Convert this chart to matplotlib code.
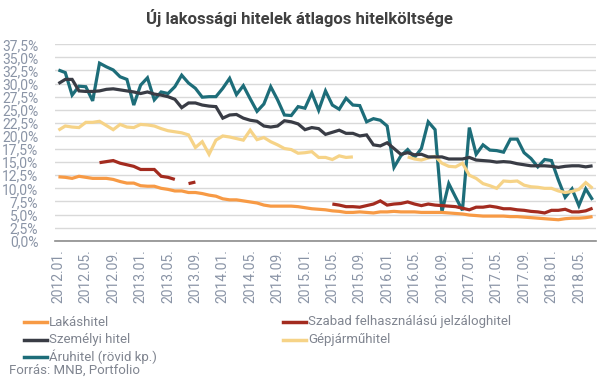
import numpy as np
import matplotlib
matplotlib.use("Agg")
import matplotlib.pyplot as plt
from matplotlib.lines import Line2D

nan = np.nan

# 2012.01 ... 2018.07 (monthly)
months = [f"{y}.{m:02d}." for y in range(2012, 2019) for m in range(1, 13)][:79]

lakashitel = [12.2, 12.1, 11.9, 12.3, 12.1, 11.9, 11.9, 11.9, 11.7, 11.3,
              11.0, 11.0, 10.5, 10.4, 10.4, 10.0, 9.8, 9.5, 9.5, 9.2,
              9.2, 9.0, 8.7, 8.5, 8.0, 7.8, 7.8, 7.6, 7.4, 7.2,
              6.8, 6.6, 6.6, 6.6, 6.6, 6.5, 6.3, 6.1, 6.0, 5.9,
              5.7, 5.6, 5.4, 5.4, 5.5, 5.4, 5.3, 5.5, 5.5, 5.6,
              5.5, 5.5, 5.5, 5.4, 5.4, 5.4, 5.4, 5.3, 5.2, 5.1,
              4.9, 4.8, 4.7, 4.7, 4.7, 4.7, 4.6, 4.6, 4.5, 4.4,
              4.3, 4.2, 4.1, 4.0, 4.2, 4.3, 4.3, 4.4, 4.6]

szabad = [nan, nan, nan, nan, nan, nan,
          14.9, 15.1, 15.3, 14.8, 14.5, 14.2, 13.6, 13.6, 13.6, 12.3, 12.1, 11.7,
          nan, 10.9, 11.2,
          nan, nan, nan, nan, nan, nan, nan, nan, nan, nan,
          nan, nan, nan, nan, nan, nan, nan, nan, nan,
          7.0, 6.8, 6.5, 6.5, 6.4, 6.7, 7.0, 7.6, 6.8, 7.0,
          7.1, 7.4, 7.0, 6.7, 7.0, 6.8, 6.7, 6.6, 6.5, 6.2,
          5.9, 6.4, 6.4, 6.6, 6.4, 6.1, 6.1, 5.9, 5.8, 5.6,
          5.5, 5.3, 5.8, 5.8, 6.0, 5.5, 5.5, 5.7, 6.2]

szemelyi = [30.0, 30.8, 30.8, 28.6, 28.5, 28.5, 28.6, 28.9, 29.0, 28.8,
            28.6, 28.4, 28.1, 28.4, 28.0, 27.8, 27.5, 27.0, 25.4, 26.3,
            26.3, 25.9, 25.7, 25.6, 23.4, 24.0, 24.1, 23.4, 23.0, 22.8,
            21.9, 21.7, 21.9, 22.9, 22.7, 22.3, 21.2, 21.6, 21.4, 20.3,
            20.7, 21.1, 20.5, 20.5, 20.0, 20.2, 18.3, 18.1, 18.7, 17.6,
            16.5, 16.8, 16.4, 16.5, 16.0, 16.0, 16.0, 15.6, 15.6, 15.6,
            15.9, 15.4, 15.3, 15.2, 15.0, 15.1, 15.0, 14.7, 14.5, 14.3,
            14.3, 14.3, 14.2, 14.0, 14.2, 14.3, 14.3, 14.1, 14.3]

gepjarmu = [21.1, 21.9, 21.7, 21.6, 22.6, 22.6, 22.8, 22.0, 21.2, 22.2,
            21.7, 21.6, 22.2, 22.1, 21.9, 21.4, 21.0, 20.8, 20.6, 20.2,
            17.8, 18.9, 16.5, 19.2, 20.0, 19.8, 19.5, 19.2, 21.1, 19.3,
            19.7, 18.9, 18.3, 17.6, 17.4, 16.7, 16.8, 17.0, 15.9, 15.9,
            15.5, 16.2, 15.9, 16.0, nan, nan, nan, nan, nan, nan,
            nan, 16.0, 15.6, 15.4, 15.8, 16.1, 14.8, 14.2, 14.1, 14.8,
            12.5, 11.9, 10.9, 10.5, 10.0, 11.4, 11.3, 11.4, 10.6, 10.3,
            10.2, 10.0, 10.0, 9.5, 9.2, 9.4, 9.8, 11.1, 10.0]

aruhitel = [32.6, 32.1, 27.8, 29.5, 29.4, 26.7, 33.9, 33.2, 32.6, 31.3,
            30.8, 25.9, 29.7, 31.1, 26.9, 28.4, 28.1, 29.4, 31.6, 30.1,
            29.1, 27.4, 27.5, 27.5, 29.1, 31.0, 27.9, 29.6, 27.1, 24.7,
            26.1, 29.4, 26.9, 24.0, 23.9, 25.6, 25.3, 28.2, 24.9, 28.6,
            25.9, 25.1, 27.2, 25.9, 25.8, 22.7, 23.3, 23.0, 21.9, 14.0,
            16.2, 17.4, 15.9, 17.6, 22.7, 21.2, 5.5, 10.9, 8.3, 5.8,
            21.6, 16.5, 18.3, 17.3, 17.2, 16.9, 19.4, 19.4, 16.8, 15.7,
            14.1, 15.5, 15.3, 11.6, 8.3, 9.9, 6.7, 9.9, 7.8]

series = [
    ("Lakáshitel", lakashitel, "#f79a45"),
    ("Szabad felhasználású jelzáloghitel", szabad, "#a32b1f"),
    ("Személyi hitel", szemelyi, "#393c45"),
    ("Gépjárműhitel", gepjarmu, "#f6d387"),
    ("Áruhitel (rövid kp.)", aruhitel, "#1d6d79"),
]
draw_order = [4, 3, 2, 1, 0]

yticks = [0, 2.5, 5, 7.5, 10, 12.5, 15, 17.5, 20, 22.5, 25, 27.5, 30, 32.5, 35, 37.5]
ytick_labels = [f"{v:.1f}%".replace(".", ",") for v in yticks]

plt.rcParams['font.family'] = ['Roboto', 'DejaVu Sans']
tick_color = "#8a94a6"
text_color = "#808590"

fig = plt.figure(figsize=(6.05, 3.78), dpi=100)
ax = fig.add_axes([55/605, 1-240.7/378, (596-55)/605, (240.7-44.3)/378])

x = np.arange(len(months))
for k in draw_order:
    name, vals, col = series[k]
    ax.plot(x, np.array(vals, dtype=float), color=col, lw=2.3,
            solid_joinstyle='miter', solid_capstyle='butt')

ax.set_xlim(-0.5, len(months) - 0.5)
ax.set_ylim(0, 37.5)
ax.set_yticks(yticks)
ax.set_yticklabels(ytick_labels)
ax.set_xticks(x[::4])
ax.set_xticklabels(months[::4], rotation=90)
ax.tick_params(axis='both', length=0, colors=tick_color, labelsize=10)
ax.tick_params(axis='y', pad=12)
ax.tick_params(axis='x', pad=6)
ax.grid(axis='y', color='#d9d9d9', lw=1)
ax.set_axisbelow(True)
for s in ['top', 'right', 'left']:
    ax.spines[s].set_visible(False)
ax.spines['bottom'].set_color('#8c8c8c')
ax.spines['bottom'].set_linewidth(1.2)
ax.spines['bottom'].set_zorder(5)

fig.text(0.495, 1-18/378, "Új lakossági hitelek átlagos hitelköltsége",
         ha='center', va='center', fontsize=12, fontweight='bold', color='#404040')

# legend (two columns)
leg_pos = {0: (24, 322), 2: (24, 339.5), 4: (24, 356.5), 1: (283, 322), 3: (283, 339.5)}
for k, (lx, ly) in leg_pos.items():
    name, vals, col = series[k]
    yf = 1 - ly/378
    fig.add_artist(Line2D([lx/605, (lx+23)/605], [yf, yf], color=col, lw=2.5,
                          transform=fig.transFigure))
    fig.text((lx+25)/605, yf, name, ha='left', va='center', fontsize=9.5, color=text_color)

fig.text(9/605, 1-370.5/378, "Forrás: MNB, Portfolio", ha='left', va='center',
         fontsize=9.5, color=text_color)

fig.savefig("out.png", dpi=100)
